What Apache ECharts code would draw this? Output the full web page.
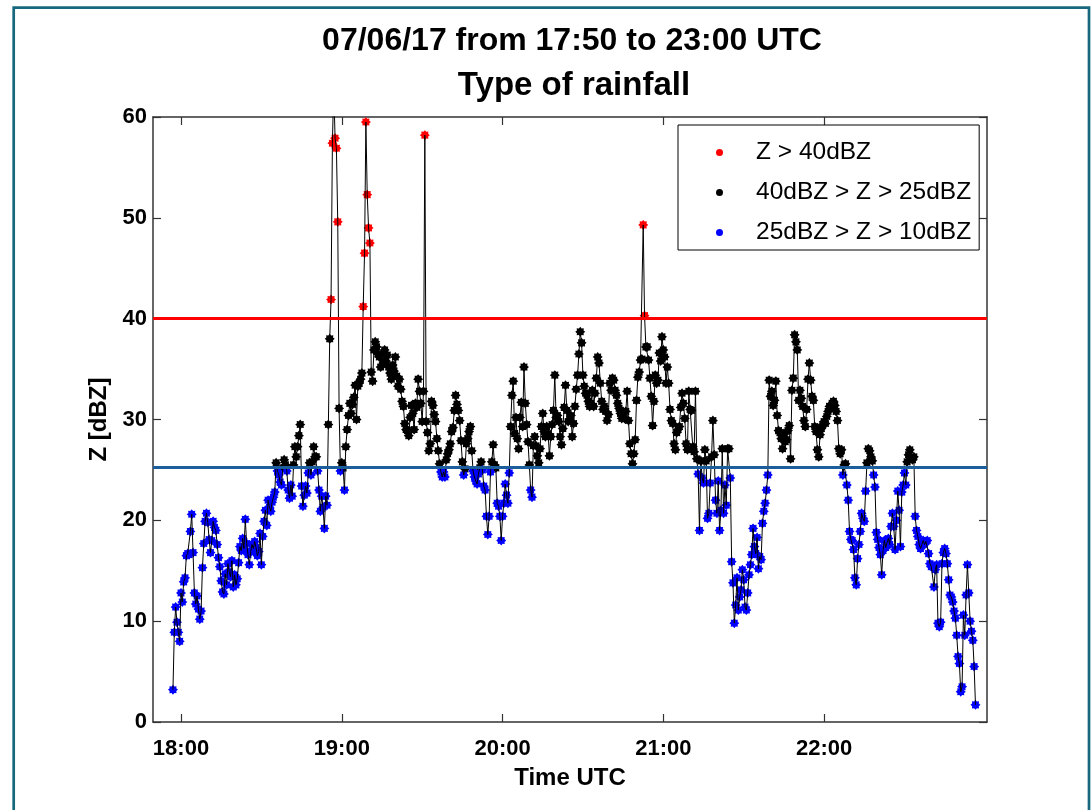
<!DOCTYPE html>
<html>
<head>
<meta charset="utf-8">
<script src="https://cdn.jsdelivr.net/npm/echarts@6/dist/echarts.min.js"></script>
<style>
html,body{margin:0;padding:0;background:#fff;}
#c{width:1092px;height:810px;}
</style>
</head>
<body>
<div id="c"></div>
<script>
// ---------------- DATA ----------------
const titleLines = ['07/06/17 from 17:50 to 23:00 UTC', 'Type of rainfall'];
const xAxisName = 'Time UTC';
const yAxisName = 'Z [dBZ]';
const seriesNames = ['Z > 40dBZ', '40dBZ > Z > 25dBZ', '25dBZ > Z > 10dBZ'];
const seriesColors = ['#ff0000', '#000000', '#0000ff'];
const classBounds = [40, 25];            // dBZ class limits
const refLineValues = [40, 25.3];         // horizontal reference lines
const refLineColors = ['#ff0000', '#1b5e9b'];
const xTickMinutes = [0, 60, 120, 180, 240];   // minutes after 18:00 UTC
const xTickLabels = ['18:00', '19:00', '20:00', '21:00', '22:00'];
const xRange = [-10.45, 300.8];                // axis extent, minutes after 18:00
const yRange = [0, 60];
const yInterval = 10;
const sampleStep = 0.5;                        // minutes between samples (30 s)

// reflectivity samples, each hour block starts at the given minute after 18:00
const z1757 = [ // from 17:57
  3.2, 8.9, 11.4, 9.9, 8.9, 8.0, 12.8, 11.9, 13.9, 14.3,
  16.5, 16.7, 16.6, 18.9, 20.6, 16.8, 12.8, 11.7, 12.5, 11.2,
  10.2, 11.0, 15.3, 17.7, 19.9, 20.7, 19.8, 18.1, 16.8, 18.0,
  19.9, 19.3, 19.0, 17.6, 16.3, 15.4, 14.0, 12.9, 12.7, 14.7,
  13.6, 15.7, 14.9, 14.4, 16.0, 13.4, 14.6, 13.6, 14.2, 15.8,
  17.4, 17.0, 18.2, 17.2, 20.1, 17.7, 16.6, 15.6, 16.9, 17.6,
  17.2, 17.9, 17.3, 16.5, 16.9, 18.7, 15.6, 18.4, 19.9, 21.0,
  19.5, 22.0, 21.3, 20.9, 21.8, 22.3, 22.8, 25.7, 24.9, 24.5,
  23.8, 23.5, 25.2, 26.0, 25.5, 24.9, 23.0, 22.2, 23.5, 22.4,
  25.5, 27.3, 26.3, 27.3, 28.4, 29.5, 23.4, 21.4, 22.5, 23.4,
  22.7, 24.7, 25.7, 24.5, 25.8, 27.3, 26.3, 26.3, 24.9, 23.0,
  20.9, 22.4, 21.3, 19.2, 22.4, 21.5, 29.5, 38.0, 41.9, 57.4,
  63.0, 57.9, 56.9, 49.6, 31.1, 24.9
];
const z1900 = [
  25.7, 25.2, 23.0, 27.3, 29.0, 30.4, 31.6, 30.6, 31.5, 32.2,
  33.4, 30.0, 33.3, 33.6, 34.0, 34.6, 41.2, 46.5, 59.5, 52.3,
  49.0, 47.5, 34.7, 33.8, 36.9, 37.7, 37.2, 36.5, 36.2, 35.2,
  36.5, 35.6, 36.9, 35.8, 36.4, 35.2, 34.6, 34.0, 35.4, 34.8,
  36.2, 34.3, 33.3, 34.0, 33.0, 31.8, 31.3, 29.6, 29.0, 28.9,
  28.4, 30.2, 31.4, 30.6, 29.0, 31.6, 31.2, 34.0, 32.8, 31.6,
  29.8, 32.8, 58.2, 29.8, 28.7, 26.9, 27.6, 31.8, 31.4, 30.5,
  29.8, 28.1, 26.9, 25.6, 24.8, 24.3, 24.8, 24.3, 26.0, 26.6,
  27.0, 27.6, 28.8, 29.2, 30.9, 32.4, 31.5, 30.9, 29.9, 27.9,
  25.8, 24.5, 25.1, 27.6, 28.1, 28.8, 29.3, 26.9, 24.9, 24.3,
  23.9, 23.6, 24.6, 25.2, 25.8, 25.0, 23.4, 23.0, 20.4, 18.6,
  20.4, 24.8, 25.8, 27.5, 25.5, 25.2, 21.7, 21.4, 20.4, 18.0
];
const z2000 = [
  20.4, 21.7, 23.6, 22.5, 21.7, 24.7, 29.3, 32.4, 33.8, 28.6,
  30.2, 28.1, 27.1, 30.2, 31.7, 29.3, 35.2, 31.6, 29.5, 27.8,
  25.5, 23.0, 22.3, 27.4, 28.3, 27.4, 26.4, 25.7, 27.1, 29.3,
  30.6, 28.8, 28.3, 29.3, 28.6, 26.4, 28.3, 29.5, 30.9, 34.4,
  30.2, 30.4, 29.8, 28.3, 27.5, 29.1, 31.2, 33.4, 30.9, 29.8,
  30.0, 30.4, 28.3, 29.6, 31.3, 33.0, 34.4, 36.5, 38.7, 37.6,
  34.4, 33.3, 32.6, 32.4, 31.8, 31.3, 31.6, 32.9, 31.3, 32.6,
  34.1, 36.2, 35.6, 33.6, 31.8, 31.0, 31.3, 30.8, 29.9, 30.5,
  33.6, 32.9, 34.1, 33.9, 32.9, 32.4, 31.6, 31.1, 30.6, 30.1,
  30.8, 30.1, 30.8, 32.8, 29.9, 27.6, 26.6, 25.6, 26.6, 28.0,
  31.9, 34.2, 34.7, 35.9, 36.0, 49.3, 40.3, 37.2, 37.2, 35.9,
  34.1, 32.3, 29.4, 31.8, 34.4, 33.6, 33.9, 36.6, 35.8, 38.2
];
const z2100 = [
  36.9, 36.2, 33.6, 35.2, 33.6, 31.0, 29.9, 29.6, 27.6, 27.0,
  28.7, 29.0, 29.3, 31.2, 32.6, 31.6, 30.1, 27.6, 27.0, 32.8,
  31.0, 30.9, 27.3, 26.8, 32.8, 26.1, 24.6, 19.0, 25.9, 24.2,
  23.7, 27.0, 25.9, 20.2, 20.7, 23.7, 26.3, 29.9, 26.5, 22.0,
  20.7, 23.9, 19.0, 21.0, 27.1, 20.7, 23.5, 21.5, 27.1, 27.1,
  24.2, 15.9, 13.8, 9.8, 11.6, 14.3, 11.1, 12.4, 13.1, 15.1,
  14.1, 11.4, 11.1, 12.8, 14.6, 15.6, 16.6, 19.2, 17.4, 16.7,
  18.3, 15.2, 16.4, 16.1, 19.7, 20.9, 21.7, 23.0, 24.5, 33.9,
  32.3, 32.8, 31.4, 31.9, 33.8, 30.4, 28.9, 28.7, 28.1, 27.1,
  28.6, 27.8, 28.0, 28.9, 29.4, 26.1, 32.9, 34.1, 38.4, 37.7,
  36.9, 31.9, 32.9, 32.1, 31.3, 29.9, 29.3, 31.0, 34.0, 35.6,
  33.9, 32.3, 31.9, 29.3, 28.8, 27.0, 26.3, 28.5, 29.1, 29.5
];
const z2200 = [
  29.8, 29.6, 30.3, 30.8, 31.3, 31.1, 31.6, 31.8, 31.4, 30.8,
  29.9, 27.1, 26.6, 27.0, 24.5, 25.5, 25.6, 23.5, 22.0, 18.9,
  18.1, 18.0, 17.1, 14.3, 13.6, 16.2, 17.6, 18.9, 20.7, 20.2,
  19.9, 22.9, 25.7, 27.1, 26.9, 26.3, 25.9, 24.5, 23.3, 18.8,
  18.1, 17.3, 16.6, 14.6, 17.0, 18.0, 17.3, 17.8, 18.2, 17.6,
  19.4, 20.7, 19.4, 17.1, 20.0, 22.9, 21.0, 17.4, 22.8, 23.5,
  24.7, 23.5, 25.8, 26.5, 27.0, 26.2, 26.0, 26.3, 20.4, 19.0,
  18.4, 17.6, 17.2, 17.6, 18.0, 17.6, 17.9, 18.0, 16.7, 15.7,
  15.4, 15.4, 13.4, 15.1, 15.6, 9.8, 9.45, 9.9, 15.7, 16.8,
  17.2, 16.7, 15.7, 14.1, 12.6, 12.4, 11.9, 11.0, 10.3, 8.6,
  6.5, 5.8, 3.0, 3.5, 10.6, 8.6, 12.6, 15.6, 12.8, 10.0,
  9.0, 8.1, 5.5, 1.7
];
const blockStarts = [-3, 60, 120, 180, 240];
const blocks = [z1757, z1900, z2000, z2100, z2200];

// ---------------- BUILD ----------------
const samples = [];
blocks.forEach((vals, b) => vals.forEach((v, i) => samples.push([blockStarts[b] + i * sampleStep, v])));
const classOf = v => v > classBounds[0] ? 0 : (v > classBounds[1] ? 1 : 2);
const classData = [[], [], []];
samples.forEach(p => classData[classOf(p[1])].push(p));

const FONT = 'Liberation Sans, Arial, Helvetica, sans-serif';
const AX = '#333333';
const starPath = 'path://M20,10 L16.65,12.76 L17.07,17.07 L12.76,16.65 L10,20 L7.24,16.65 L2.93,17.07 L3.35,12.76 L0,10 L3.35,7.24 L2.93,2.93 L7.24,3.35 L10,0 L12.76,3.35 L17.07,2.93 L16.65,7.24 Z';

const chart = echarts.init(document.getElementById('c'), null, {renderer: 'canvas', width: 1092, height: 810});

const option = {
  animation: false,
  backgroundColor: '#ffffff',
  title: [
    {text: titleLines[0], left: 567, top: 20, textAlign: 'center',
     textStyle: {fontFamily: FONT, fontSize: 32, fontWeight: 'bold', color: '#000', lineHeight: 32}},
    {text: titleLines[1], left: 569, top: 64, textAlign: 'center',
     textStyle: {fontFamily: FONT, fontSize: 33, fontWeight: 'bold', color: '#000', lineHeight: 33}}
  ],
  graphic: [{
    type: 'rect', silent: true, z: 0,
    shape: {x: 13.7, y: 7.7, width: 1075.3, height: 900},
    style: {fill: 'none', stroke: '#17687f', lineWidth: 2.7}
  }],
  legend: {
    orient: 'vertical', left: 678, top: 125,
    data: seriesNames.map(n => ({name: n, icon: 'circle'})),
    itemWidth: 7, itemHeight: 7, itemGap: 15,
    padding: [15, 8, 5, 38],
    borderColor: '#000', borderWidth: 1, backgroundColor: '#ffffff',
    selectedMode: false,
    textStyle: {fontFamily: FONT, fontSize: 24.5, color: '#000', lineHeight: 24, padding: [0, 0, 0, 28]}
  },
  grid: {left: 153, right: 105, top: 117, bottom: 88, containLabel: false},
  xAxis: [
    {
      type: 'value', position: 'bottom', min: xRange[0], max: xRange[1],
      name: xAxisName, nameLocation: 'middle', nameGap: 44,
      nameTextStyle: {fontFamily: FONT, fontSize: 24, fontWeight: 'bold', color: '#000'},
      axisLine: {show: true, onZero: false, lineStyle: {color: AX, width: 1.5}},
      axisTick: {show: true, inside: true, length: 8, customValues: xTickMinutes, lineStyle: {color: AX, width: 1.2}},
      axisLabel: {show: true, customValues: xTickMinutes, margin: 16,
        formatter: v => xTickLabels[xTickMinutes.indexOf(v)],
        fontFamily: FONT, fontSize: 22, fontWeight: 'bold', color: '#000'},
      splitLine: {show: false}
    },
    {
      type: 'value', position: 'top', min: xRange[0], max: xRange[1],
      axisLine: {show: true, onZero: false, lineStyle: {color: AX, width: 1.5}},
      axisTick: {show: true, inside: true, length: 8, customValues: xTickMinutes, lineStyle: {color: AX, width: 1.2}},
      axisLabel: {show: false},
      splitLine: {show: false}
    }
  ],
  yAxis: [
    {
      type: 'value', position: 'left', min: yRange[0], max: yRange[1], interval: yInterval,
      name: yAxisName, nameLocation: 'middle', nameGap: 41, nameRotate: 90,
      nameTextStyle: {fontFamily: FONT, fontSize: 24, fontWeight: 'bold', color: '#000'},
      axisLine: {show: true, onZero: false, lineStyle: {color: AX, width: 1.5}},
      axisTick: {show: true, inside: true, length: 8, lineStyle: {color: AX, width: 1.2}},
      axisLabel: {show: true, margin: 6, fontFamily: FONT, fontSize: 22, fontWeight: 'bold', color: '#000'},
      splitLine: {show: false}
    },
    {
      type: 'value', position: 'right', min: yRange[0], max: yRange[1], interval: yInterval,
      axisLine: {show: true, onZero: false, lineStyle: {color: AX, width: 1.5}},
      axisTick: {show: true, inside: true, length: 8, lineStyle: {color: AX, width: 1.2}},
      axisLabel: {show: false},
      splitLine: {show: false}
    }
  ],
  series: [
    ...seriesNames.map((name, k) => ({
      name: name, type: 'scatter', xAxisIndex: 0, yAxisIndex: 0,
      data: classData[k], symbol: starPath, symbolSize: 10, z: 3,
      itemStyle: {color: seriesColors[k], opacity: 1},
      emphasis: {disabled: true}, silent: true
    })),
    {
      name: 'trace', type: 'line', xAxisIndex: 0, yAxisIndex: 0,
      data: samples, showSymbol: false, symbol: 'none', z: 4, silent: true,
      lineStyle: {color: '#000', width: 1},
      markLine: {
        silent: true, symbol: ['none', 'none'],
        label: {show: false},
        data: refLineValues.map((v, i) => ({yAxis: v, lineStyle: {color: refLineColors[i], width: 3, type: 'solid'}}))
      }
    }
  ]
};
chart.setOption(option);
</script>
</body>
</html>
